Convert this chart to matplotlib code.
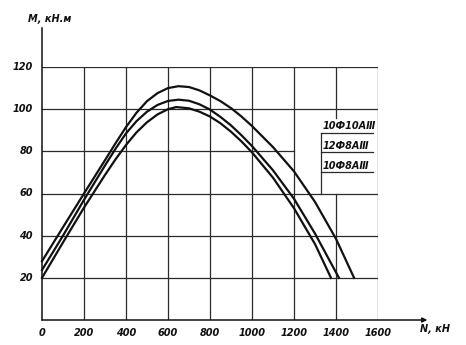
import matplotlib

matplotlib.use("Agg")
import matplotlib.pyplot as plt

# N, kN  ->  M, kN*m for three reinforcement layouts
n_10f10 = [0, 100, 200, 300, 350, 400, 450, 500, 550, 600, 650, 700, 750, 800, 850, 900, 950, 1000,
           1100, 1200, 1300, 1400, 1486]
m_10f10 = [27.9, 44, 60, 75.8, 83.8, 91.5, 98.3, 103.8, 107.6, 110, 110.9, 110.5, 108.9, 106.5, 103.8,
           100.5, 96.5, 92, 82, 70.5, 56, 38.5, 20]

n_12f8 = [0, 100, 200, 300, 350, 400, 450, 500, 550, 600, 650, 700, 750, 800, 850, 900, 950, 1000,
          1100, 1200, 1300, 1414]
m_12f8 = [23.7, 40, 57, 73.3, 81.2, 88.5, 94.3, 98.8, 102, 103.9, 104.5, 104, 102.3, 99.8, 96.3,
          92.3, 87.6, 82.5, 71, 57.5, 41, 20]

n_10f8 = [0, 100, 200, 300, 350, 400, 450, 500, 550, 600, 640, 700, 750, 800, 850, 900, 950, 1000,
          1100, 1200, 1300, 1376]
m_10f8 = [20, 36.8, 53.3, 68.8, 76.2, 83, 89, 93.8, 97.5, 100, 101, 100.4, 98.8, 96.5, 93.3,
          89.3, 84.7, 79.5, 67.5, 53, 36, 20]

x_ticks = [0, 200, 400, 600, 800, 1000, 1200, 1400, 1600]
y_ticks = [20, 40, 60, 80, 100, 120]
legend_labels = ["10Ф10AⅢ", "12Ф8AⅢ", "10Ф8AⅢ"]

ink = "#111111"
grid_c = "#2a2a2a"
font = dict(family="DejaVu Sans", style="italic", fontweight="bold", fontsize=7, color=ink)

fig = plt.figure(figsize=(4.66, 3.45), dpi=100)
fig.patch.set_facecolor("white")
ax = fig.add_axes([42 / 466, 25 / 345, 336 / 466, 253 / 345])
ax.set_xlim(0, 1600)
ax.set_ylim(0, 120)
ax.axis("off")

# grid, with the legend area left open
for x in x_ticks[1:]:
    if x == 1400:
        ax.plot([x, x], [0, 60], color=grid_c, lw=0.9)
        ax.plot([x, x], [96, 120], color=grid_c, lw=0.9)
    else:
        ax.plot([x, x], [0, 120], color=grid_c, lw=0.9)
for y in y_ticks:
    x_end = 1200 if y == 80 else 1600
    ax.plot([0, x_end], [y, y], color=grid_c, lw=0.9)

# axes: N with an arrow, M plain
ax.plot([0, 0], [0, 138.5], color=ink, lw=1.1, clip_on=False)
ax.annotate("", xy=(1835, 0), xytext=(0, 0), annotation_clip=False,
            arrowprops=dict(arrowstyle="-|>", color=ink, lw=1.1,
                            mutation_scale=7, shrinkA=0, shrinkB=0))

for n, m in [(n_10f10, m_10f10), (n_12f8, m_12f8), (n_10f8, m_10f8)]:
    ax.plot(n, m, color=ink, lw=1.6, solid_joinstyle="round", clip_on=False)

# legend box
ax.plot([1329, 1329], [60, 88.7], color=grid_c, lw=0.9)
for label, y_text, y_line in zip(legend_labels, [92, 82.4, 73], [88.7, 79.7, 70.2]):
    ax.text(1338, y_text, label, ha="left", va="center", **font)
    ax.plot([1329, 1575], [y_line, y_line], color=grid_c, lw=0.9)

for x in x_ticks:
    ax.text(x, -6.3, str(x), ha="center", va="center", clip_on=False, **font)
for y in y_ticks:
    ax.text(-43, y, str(y), ha="right", va="center", clip_on=False, **font)

ax.text(-68, 143, "M, кН.м", ha="left", va="center", clip_on=False, **font)
ax.text(1800, -4.5, "N, кН", ha="left", va="center", clip_on=False, **font)

fig.savefig("out.png", dpi=100, facecolor="white")
plt.close(fig)
